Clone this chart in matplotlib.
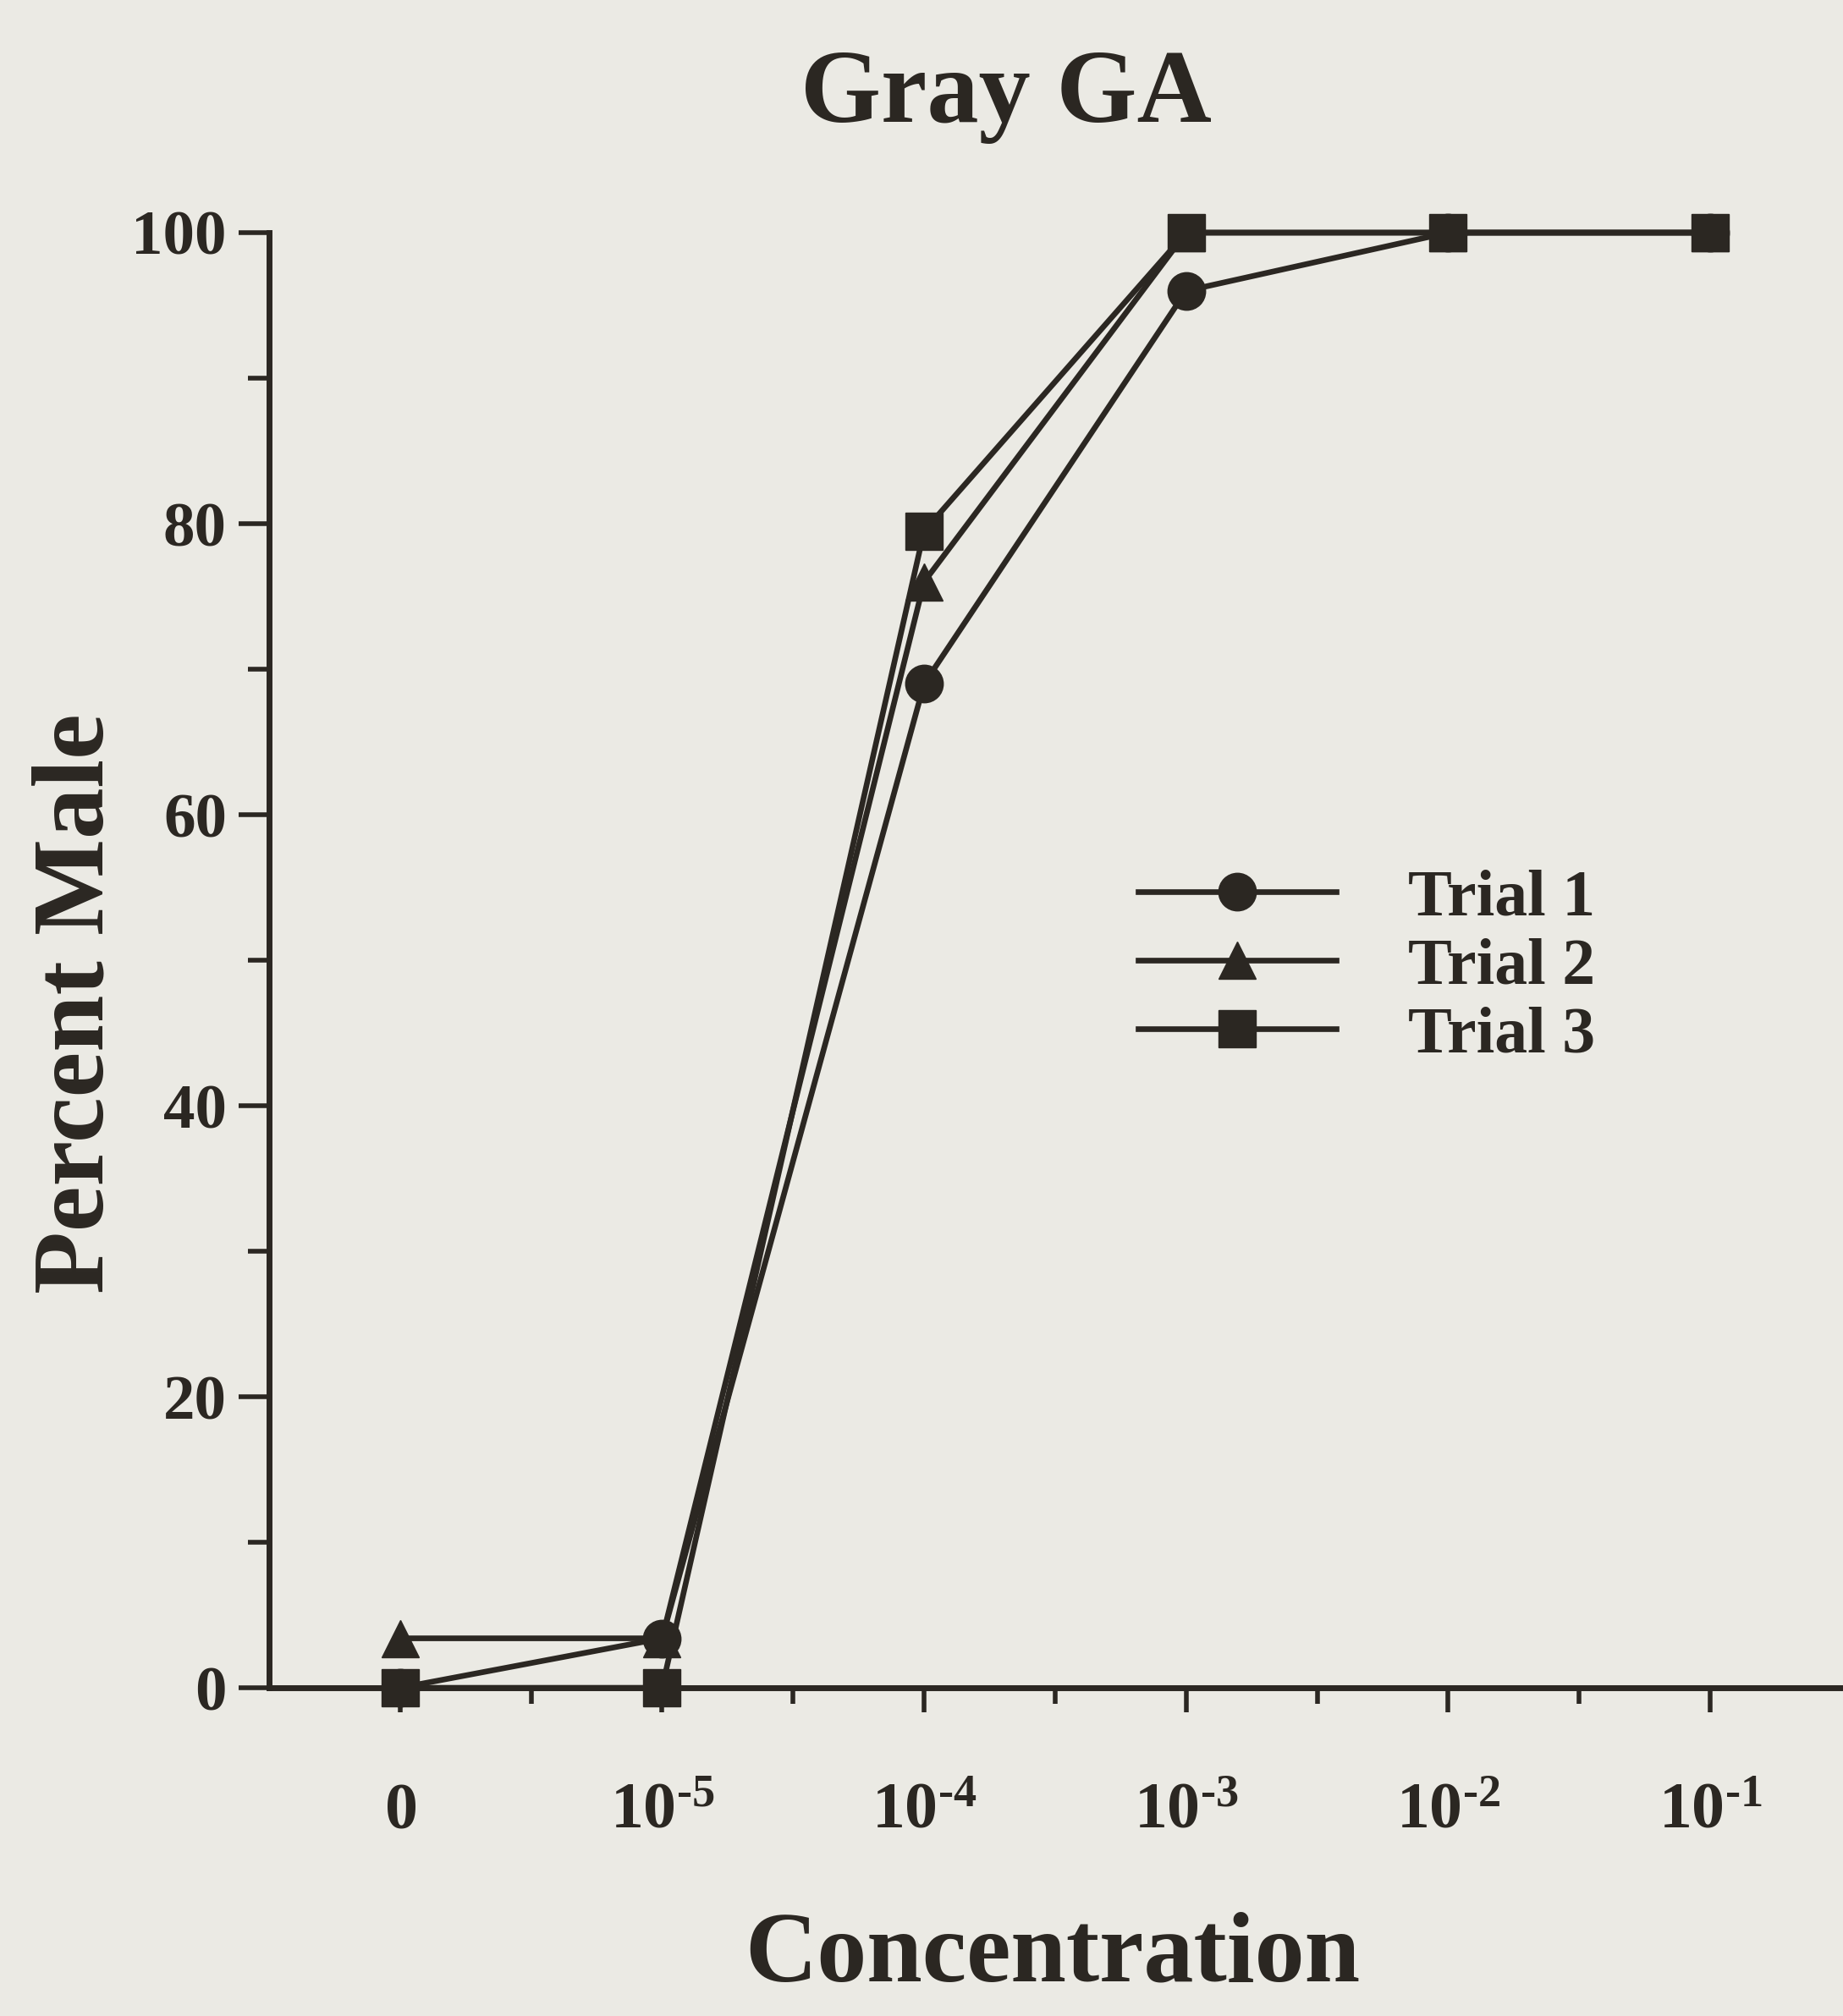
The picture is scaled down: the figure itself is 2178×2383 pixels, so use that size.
import numpy as np
import matplotlib
matplotlib.use("Agg")
import matplotlib.pyplot as plt
from matplotlib.ticker import FixedLocator

# data
concentrations = ["0", r"10^{\text{-}5}", r"10^{\text{-}4}", r"10^{\text{-}3}",
                  r"10^{\text{-}2}", r"10^{\text{-}1}"]
trial_labels = ["Trial 1", "Trial 2", "Trial 3"]
trial1 = [0, 3.4, 69, 96, 100, 100]
trial2 = [3.4, 3.4, 76, 100, 100, 100]
trial3 = [0, 0, 79.5, 100, 100, 100]
trial_markers = ["o", "^", "s"]

plt.rcParams['font.family'] = ['Liberation Serif', 'DejaVu Serif']
plt.rcParams['font.weight'] = 'bold'
plt.rcParams['mathtext.fontset'] = 'custom'
plt.rcParams['mathtext.rm'] = 'Liberation Serif:bold'
plt.rcParams['mathtext.bf'] = 'Liberation Serif:bold'
plt.rcParams['mathtext.default'] = 'rm'

bg = '#ebeae4'
ink = '#2b2722'

fig = plt.figure(figsize=(21.78, 23.83), dpi=100, facecolor=bg)
ax = fig.add_axes([0.146, 0.1628, 0.853, 0.7218])
ax.set_facecolor(bg)

x = np.arange(len(concentrations))
for vals, mk, lab in zip([trial1, trial2, trial3], trial_markers, trial_labels):
    ax.plot(x, vals, color=ink, lw=4.8, marker=mk, ms=32, mfc=ink, mec=ink,
            label=lab, clip_on=False, zorder=3)

ax.set_xlim(-0.5, 5.5)
ax.set_ylim(0, 100)

for s in ['top', 'right']:
    ax.spines[s].set_visible(False)
for s in ['left', 'bottom']:
    ax.spines[s].set_linewidth(5)
    ax.spines[s].set_color(ink)

# y ticks
ax.yaxis.set_major_locator(FixedLocator([0, 20, 40, 60, 80, 100]))
ax.yaxis.set_minor_locator(FixedLocator([10, 30, 50, 70, 90]))
ax.tick_params(axis='y', which='major', length=26, width=4, color=ink,
               labelsize=54, pad=10, labelcolor=ink)
ax.tick_params(axis='y', which='minor', length=18, width=4, color=ink)

# x ticks
ax.set_xticks(x)
ax.set_xticklabels(['$' + c + '$' for c in concentrations])
ax.xaxis.set_minor_locator(FixedLocator(x[:-1] + 0.5))
ax.tick_params(axis='x', which='major', length=21, width=4, color=ink,
               labelsize=56, pad=98, labelcolor=ink)
ax.tick_params(axis='x', which='minor', length=14, width=4, color=ink)
for lbl in ax.get_xticklabels():
    lbl.set_verticalalignment('baseline')

fig.text(0.546, 0.9396, "Gray GA", ha='center', va='baseline',
         fontsize=88, fontweight='bold', color=ink)
fig.text(0.056, 0.5023, "Percent Male", rotation=90, rotation_mode='anchor',
         ha='center', va='baseline', fontsize=87, fontweight='bold', color=ink)
fig.text(0.571, 0.0176, "Concentration", ha='center', va='baseline',
         fontsize=85, fontweight='bold', color=ink)

leg = ax.legend(loc='center left', bbox_to_anchor=(0.553, 0.495),
                frameon=False, fontsize=56, handlelength=3.0,
                handletextpad=1.1, labelspacing=0.12, borderpad=0,
                borderaxespad=0)
for t in leg.get_texts():
    t.set_color(ink)

fig.savefig("out.png", dpi=100, facecolor=bg)
